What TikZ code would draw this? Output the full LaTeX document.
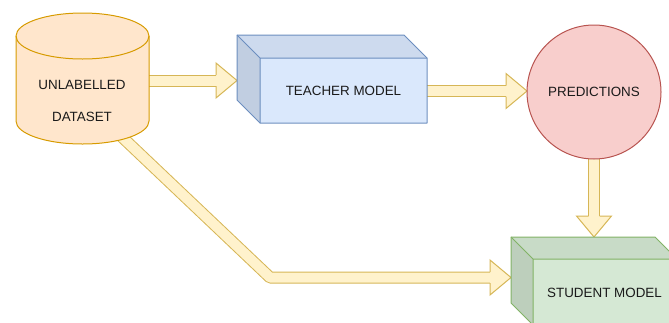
\documentclass[tikz,border=0pt]{standalone}
\usepackage{fontspec}
\setmainfont{Liberation Sans}
\usetikzlibrary{calc}
\definecolor{arrF}{HTML}{FFF2CC}
\definecolor{arrS}{HTML}{D6B656}
\definecolor{cylF}{HTML}{FFE6CC}
\definecolor{cylS}{HTML}{D79B00}
\definecolor{blueF}{HTML}{DAE8FC}
\definecolor{blueT}{RGB}{205,218,238}
\definecolor{blueL}{RGB}{193,206,225}
\definecolor{blueS}{HTML}{6C8EBF}
\definecolor{greenF}{HTML}{D5E8D4}
\definecolor{greenT}{RGB}{200,219,199}
\definecolor{greenL}{RGB}{189,207,188}
\definecolor{greenS}{HTML}{82B366}
\definecolor{redF}{HTML}{F8CECC}
\definecolor{redS}{HTML}{B85450}
\definecolor{txt}{HTML}{1A1A1A}

\tikzset{
  shaft/.style={draw=arrS, double=arrF, double distance=10pt, line width=1pt, line join=round},
  arrowline/.style={draw=arrS, line width=1pt, line join=miter},
  lbl/.style={text=txt, font=\fontsize{13.4}{16}\selectfont, inner sep=0pt},
  thinline/.style={line width=1pt},
}

% #1: path up to the last bend, #2: point before the tip, #3: tip
\newcommand\flexarrow[3]{%
  \coordinate (hb) at ($(#3)!21pt!(#2)$);
  \draw[shaft] #1 -- (hb);
  \fill[arrF] ($(hb)!5.5pt!90:(#3)$) -- ($(hb)!17.5pt!90:(#3)$) -- (#3)
     -- ($(hb)!17.5pt!-90:(#3)$) -- ($(hb)!5.5pt!-90:(#3)$) -- cycle;
  \draw[arrowline] ($(hb)!5.5pt!90:(#3)$) -- ($(hb)!17.5pt!90:(#3)$) -- (#3)
     -- ($(hb)!17.5pt!-90:(#3)$) -- ($(hb)!5.5pt!-90:(#3)$);
}

% x0, y0, w, h, s, front, top, left, stroke
\newcommand\cubeshape[9]{%
  \fill[#6] ({#1+#5},{#2+#5}) rectangle ({#1+#3},{#2+#4});
  \fill[#7] (#1,#2) -- ({#1+#3-#5},#2) -- ({#1+#3},{#2+#5}) -- ({#1+#5},{#2+#5}) -- cycle;
  \fill[#8] (#1,#2) -- ({#1+#5},{#2+#5}) -- ({#1+#5},{#2+#4}) -- (#1,{#2+#4-#5}) -- cycle;
  \draw[#9, thinline, line join=round] (#1,#2) -- ({#1+#3-#5},#2) -- ({#1+#3},{#2+#5})
     -- ({#1+#3},{#2+#4}) -- ({#1+#5},{#2+#4}) -- (#1,{#2+#4-#5}) -- cycle;
  \draw[#9, thinline] (#1,#2) -- ({#1+#5},{#2+#5}) -- ({#1+#3},{#2+#5})
     ({#1+#5},{#2+#5}) -- ({#1+#5},{#2+#4});
}

\begin{document}
\begin{tikzpicture}[x=1pt, y=-1pt]
\useasboundingbox (0,0) rectangle (669,322);
\clip (0,0) rectangle (669,322);

% arrow end points
\coordinate (cylE) at (145,80.5);
\coordinate (teachW) at (237,80.5);
\coordinate (teachE) at (420,91);
\coordinate (predW) at (527,91);
\coordinate (predS) at (594,150);
\coordinate (stuN) at (594,237);
\coordinate (dsA) at (118,133.2);
\coordinate (dsB) at (270,277.5);
\coordinate (stuW) at (511,277.5);

% connectors (drawn first, shapes cover their tails)
\flexarrow{(cylE)}{cylE}{teachW}
\flexarrow{(teachE)}{teachE}{predW}
\flexarrow{(predS)}{predS}{stuN}
\flexarrow{(dsA) -- (dsB)}{dsB}{stuW}

% cylinder: unlabelled dataset
\filldraw[fill=cylF, draw=cylS, thinline] (16,36) -- (16,121)
  arc[start angle=180, end angle=360, x radius=66.5pt, y radius=23pt]
  -- (149,36)
  arc[start angle=0, end angle=180, x radius=66.5pt, y radius=23pt] -- cycle;
\draw[cylS, thinline] (16,36) arc[start angle=180, end angle=360, x radius=66.5pt, y radius=23pt];
\node[lbl, align=center, font=\fontsize{13.4}{32}\selectfont] (dataset) at (82,101) {UNLABELLED\\DATASET};

% teacher model cube
\cubeshape{237}{35}{190}{88}{23}{blueF}{blueT}{blueL}{blueS}
\node[lbl] (teacher) at (343.5,91) {TEACHER MODEL};

% predictions circle
\node[circle, draw=redS, fill=redF, thinline, minimum size=134pt, inner sep=0pt,
      text=txt, font=\fontsize{13.4}{16}\selectfont] (pred) at (594,92) {PREDICTIONS};

% student model cube
\cubeshape{511}{237}{166}{88}{22}{greenF}{greenT}{greenL}{greenS}
\node[lbl] (student) at (604.5,293) {STUDENT MODEL};
\end{tikzpicture}
\end{document}
